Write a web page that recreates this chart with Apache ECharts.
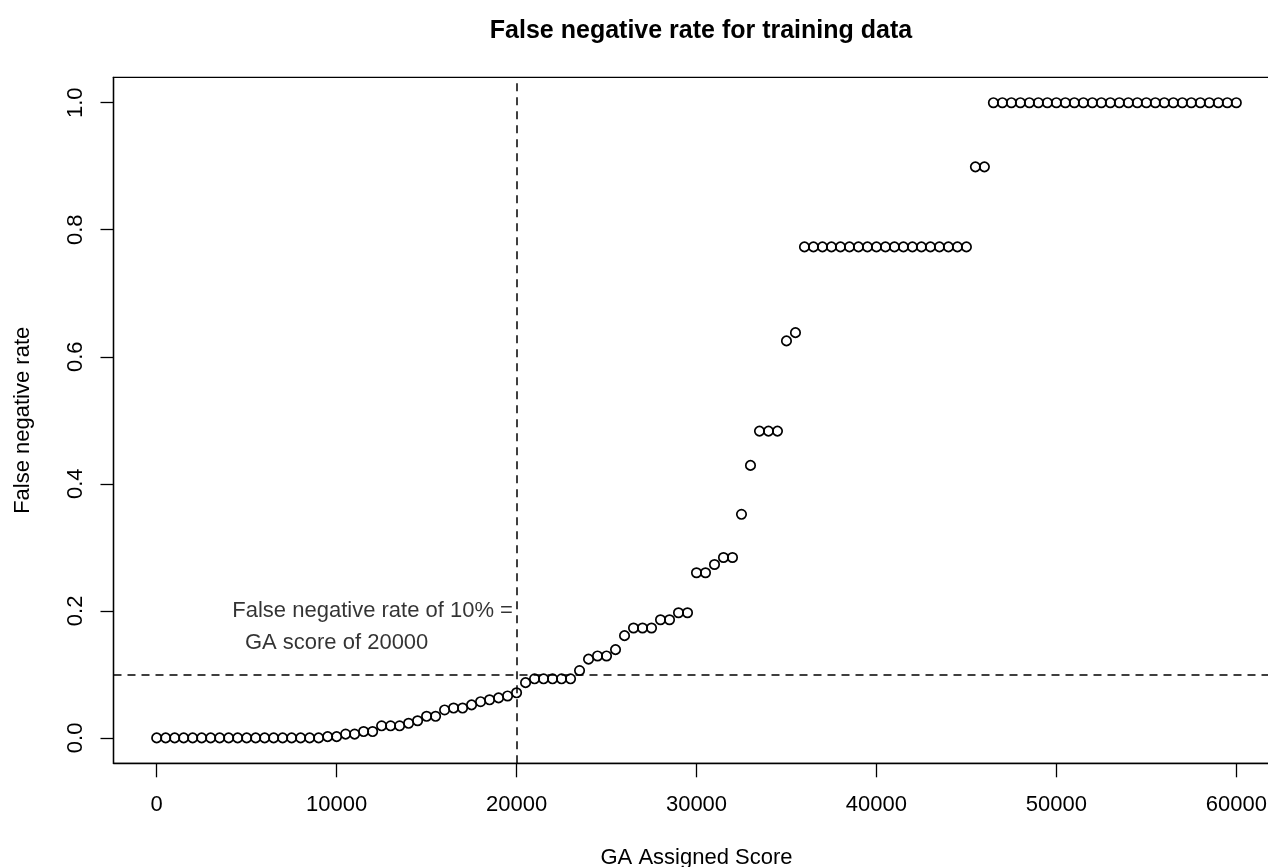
<!DOCTYPE html>
<html>
<head>
<meta charset="utf-8">
<script src="https://cdn.jsdelivr.net/npm/echarts@6/dist/echarts.min.js"></script>
<style>html,body{margin:0;padding:0;background:#fff;}#chart{width:1268px;height:867px;}</style>
</head>
<body>
<div id="chart"></div>
<script>
// GA assigned score (x) and false negative rate (y)
var scores = [0,500,1000,1500,2000,2500,3000,3500,4000,4500,5000,5500,6000,6500,7000,7500,8000,8500,9000,9500,
  10000,10500,11000,11500,12000,12500,13000,13500,14000,14500,15000,15500,16000,16500,17000,17500,18000,18500,19000,19500,
  20000,20500,21000,21500,22000,22500,23000,23500,24000,24500,25000,25500,26000,26500,27000,27500,28000,28500,29000,29500,
  30000,30500,31000,31500,32000,32500,33000,33500,34000,34500,35000,35500,36000,36500,37000,37500,38000,38500,39000,39500,
  40000,40500,41000,41500,42000,42500,43000,43500,44000,44500,45000,45500,46000,46500,47000,47500,48000,48500,49000,49500,
  50000,50500,51000,51500,52000,52500,53000,53500,54000,54500,55000,55500,56000,56500,57000,57500,58000,58500,59000,59500,
  60000];
var fnRate = [0,0,0,0,0,0,0,0,0,0,0,0,0,0,0,0,0,0,0,0.002,
  0.002,0.006,0.006,0.010,0.010,0.019,0.019,0.019,0.023,0.027,0.034,0.034,0.044,0.047,0.047,0.052,0.057,0.060,0.063,0.066,
  0.071,0.087,0.093,0.093,0.093,0.093,0.093,0.106,0.124,0.129,0.129,0.139,0.161,0.173,0.173,0.173,0.186,0.186,0.197,0.197,
  0.260,0.260,0.273,0.284,0.284,0.352,0.429,0.483,0.483,0.483,0.625,0.638,0.773,0.773,0.773,0.773,0.773,0.773,0.773,0.773,
  0.773,0.773,0.773,0.773,0.773,0.773,0.773,0.773,0.773,0.773,0.773,0.899,0.899,1,1,1,1,1,1,1,
  1,1,1,1,1,1,1,1,1,1,1,1,1,1,1,1,1,1,1,1,
  1];
var xTicks = [0,10000,20000,30000,40000,50000,60000];
var yTicks = [0,0.2,0.4,0.6,0.8,1.0];
var cutoffScore = 20000;
var cutoffRate = 0.1;
var noteLines = ["False negative rate of 10% =", "GA score of 20000"];
var notePos = [[12000, 0.2], [10000, 0.15]];

var FONT = "'Liberation Sans', Arial, Helvetica, sans-serif";
var chart = echarts.init(document.getElementById('chart'), null, {renderer: 'canvas'});
var pts = scores.map(function (s, i) { return [s, fnRate[i]]; });

chart.setOption({
  animation: false,
  backgroundColor: '#fff',
  title: {
    text: 'False negative rate for training data',
    left: 696, textAlign: 'center', top: 14,
    textStyle: {fontFamily: FONT, fontSize: 25, fontWeight: 'bold', color: '#000'}
  },
  grid: {left: 113.5, right: -11.5, top: 77.3, bottom: 103.7, show: true, borderColor: '#000', borderWidth: 1.3,
    containLabel: false, outerBoundsMode: 'none'},
  xAxis: {
    type: 'value', min: -2400, max: 62400,
    name: 'GA Assigned Score', nameLocation: 'middle', nameGap: 84,
    nameTextStyle: {fontFamily: FONT, fontSize: 22, color: '#000'},
    splitLine: {show: false},
    axisLine: {show: true, onZero: false, lineStyle: {color: '#000', width: 1.3}},
    axisTick: {show: true, length: 14, customValues: xTicks, lineStyle: {color: '#000', width: 1.3}},
    axisLabel: {customValues: xTicks, margin: 31, fontFamily: FONT, fontSize: 22, color: '#000', hideOverlap: false,
      formatter: function (v) { return String(v); }}
  },
  yAxis: {
    type: 'value', min: -0.04, max: 1.04,
    name: 'False negative rate', nameLocation: 'middle', nameGap: 80, nameRotate: 90,
    nameTextStyle: {fontFamily: FONT, fontSize: 22, color: '#000'},
    splitLine: {show: false},
    axisLine: {show: true, onZero: false, lineStyle: {color: '#000', width: 1.3}},
    axisTick: {show: true, length: 13, customValues: yTicks, lineStyle: {color: '#000', width: 1.3}},
    axisLabel: {customValues: yTicks, rotate: 90, margin: 27, fontFamily: FONT, fontSize: 22, color: '#000',
      formatter: function (v) { return v.toFixed(1); }}
  },
  series: [
    {
      type: 'scatter', data: pts, symbol: 'circle', symbolSize: 9.4,
      itemStyle: {color: 'rgba(0,0,0,0)', borderColor: '#000', borderWidth: 1.7, opacity: 1},
      emphasis: {disabled: true},
      markLine: {
        silent: true, symbol: ['none', 'none'],
        lineStyle: {color: '#000', width: 1.5, type: [8, 6], opacity: 1},
        label: {show: false},
        data: [{xAxis: cutoffScore}, {yAxis: cutoffRate}]
      }
    },
    {
      type: 'scatter', symbolSize: 0, silent: true,
      data: notePos.map(function (p, i) { return {value: p, label: {formatter: noteLines[i]}}; }),
      label: {show: true, position: 'inside', fontFamily: FONT, fontSize: 22, color: '#000', textBorderWidth: 0}
    }
  ]
});
</script>
</body>
</html>
